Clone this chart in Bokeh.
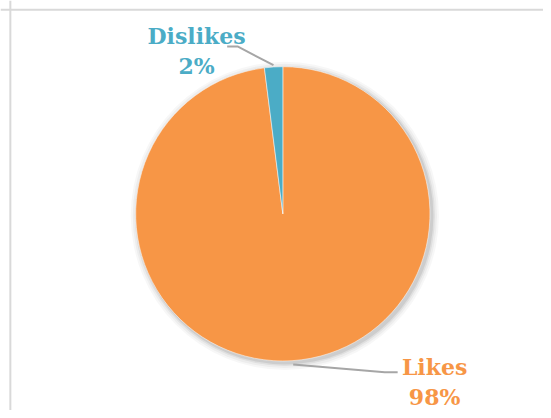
import math
from bokeh.plotting import figure
from bokeh.models import ColumnDataSource, Range1d, Span
from bokeh.embed import file_html
from bokeh.resources import INLINE
from bokeh.core.properties import value

# ---- data ----
categories = ["Likes", "Dislikes"]
shares = [98, 2]
colors = ["#F79646", "#4BACC6"]

# ---- layout (data unit == 1 canvas px) ----
W, H = 543, 410
KX, KY = W / 551.0, H / 418.0
def X(x):  # reference x -> data x
    return x * KX
def Y(y):  # reference y -> data y
    return H - y * KY

TEXT_SHIFT = 8  # compensate baseline offset of svg text rendering

cx, cy, r = X(286.5), Y(217.5), 150 * KY

p = figure(width=W, height=H, output_backend="svg", toolbar_location=None,
           x_range=Range1d(0, W), y_range=Range1d(0, H),
           min_border=0, outline_line_color=None)
p.axis.visible = False
p.grid.visible = False
p.background_fill_color = "white"
p.border_fill_color = "white"

# chart-area border (left and top visible)
p.add_layout(Span(location=X(10), dimension="height", line_color="#d9d9d9", line_width=2))
p.add_layout(Span(location=Y(9.5), dimension="width", line_color="#d9d9d9", line_width=2))

# soft shadow
for dr, a in [(7, 0.03), (5, 0.04), (3, 0.06), (1.5, 0.08)]:
    p.circle(x=[cx + 2], y=[cy - 2], radius=r + dr, fill_color="#000000",
             fill_alpha=a, line_color=None)

# wedges: start at 12 o'clock, clockwise
total = float(sum(shares))
starts, ends = [], []
cum = 0.0
for v in shares:
    a0 = math.pi / 2 - 2 * math.pi * cum / total
    a1 = math.pi / 2 - 2 * math.pi * (cum + v) / total
    starts.append(a1)
    ends.append(a0)
    cum += v
src = ColumnDataSource(dict(cat=categories, val=shares, start=starts, end=ends, color=colors))
p.wedge(x=cx, y=cy, radius=r, start_angle="start", end_angle="end",
        fill_color="color", line_color="white", line_width=0.5, source=src)

# leader lines
p.line(x=[X(230), X(241), X(277)], y=[Y(47), Y(47), Y(66)],
       line_color="#a6a6a6", line_width=2)
p.line(x=[X(297), X(390), X(403)], y=[Y(371), Y(379), Y(379)],
       line_color="#a6a6a6", line_width=2)

# labels
label_pos = {"Dislikes": (X(199), Y(44), Y(75)), "Likes": (X(440.5), Y(382), Y(412))}
for cat, v, c in zip(categories, shares, colors):
    x, y1, y2 = label_pos[cat]
    p.text(x=[x, x], y=[y1 + TEXT_SHIFT, y2 + TEXT_SHIFT], text=[cat, f"{v}%"], text_color=c,
           text_font=value("DejaVu Serif"), text_font_style="bold",
           text_font_size="22px", text_align="center", text_baseline="alphabetic")

open("out.html", "w").write(file_html(p, INLINE))
